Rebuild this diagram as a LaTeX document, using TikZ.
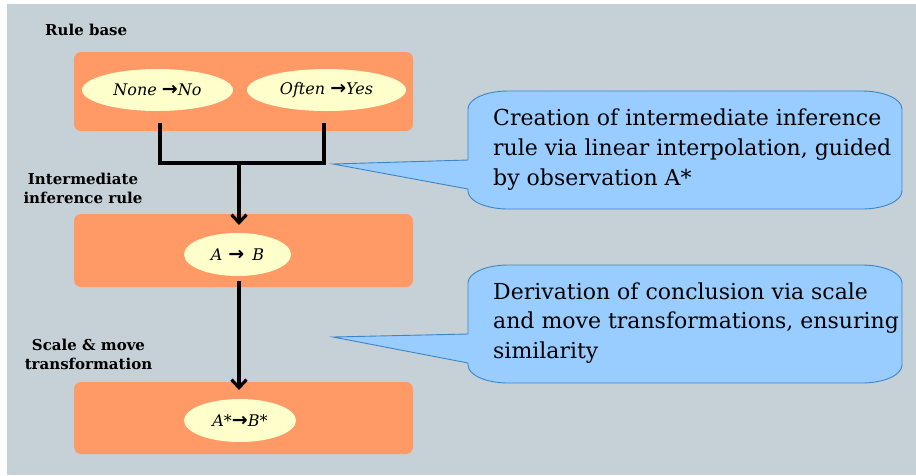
\documentclass[tikz,border=0pt]{standalone}
\usepackage{fontspec}
\setmainfont{DejaVu Serif}
\newfontfamily\arrowfont{DejaVu Sans}
\usetikzlibrary{shapes.geometric,arrows.meta}
\definecolor{bgc}{RGB}{198,208,215}
\definecolor{boxc}{RGB}{255,153,102}
\definecolor{ellc}{RGB}{255,255,204}
\definecolor{calfill}{RGB}{153,204,255}
\definecolor{caldraw}{RGB}{60,134,200}
\newcommand{\rarr}{{\arrowfont\bfseries\fontsize{19}{19}\selectfont →}}
\tikzset{
  rulebox/.style={fill=boxc, draw=none, rounded corners=7pt},
  oval/.style={ellipse, fill=ellc, draw=none, inner sep=0pt, font=\fontsize{16}{18}\selectfont\itshape},
  lbl/.style={font=\fontsize{15}{19}\selectfont\bfseries, inner sep=0pt, align=center, anchor=north},
  conn/.style={line width=3.4pt, black},
  arr/.style={conn, -{Straight Barb[length=8pt,width=15pt,line width=3.2pt]}},
  callout/.style={fill=calfill, draw=caldraw, line width=0.9pt},
  caltext/.style={font=\fontsize{22}{30}\selectfont, inner sep=0pt, align=left, anchor=north west}
}
\begin{document}
\begin{tikzpicture}[x=1pt,y=-1pt]
\useasboundingbox (0,0) rectangle (916,475);
\fill[bgc] (7,4) rectangle (916,475);

% labels
\node[font=\fontsize{15}{19}\selectfont\bfseries, inner sep=0pt, anchor=base west] (lrb) at (45,35) {Rule base};
\node[lbl] (lir) at (83,172.6) {Intermediate\\inference rule};
\node[lbl] (lsm) at (88.5,338.6) {Scale \& move\\transformation};

% boxes
\path[rulebox] (74,52) rectangle (413,131);
\path[rulebox] (74,214) rectangle (413,287);
\path[rulebox] (74,382) rectangle (413,454);

% ellipses
\node[oval, minimum width=151pt, minimum height=42pt] (e1) at (157.5,90) {None \rarr No};
\node[oval, minimum width=159pt, minimum height=42pt] (e2) at (326.5,90) {Often \rarr Yes};
\node[oval, minimum width=107pt, minimum height=43pt] (e3) at (237.5,254.5) {A\hspace{6pt}\rarr\hspace{8pt}B};
\node[oval, minimum width=112pt, minimum height=43pt] (e4) at (240,420.5) {A*\rarr B*};

% connectors
\coordinate (b1) at (160,123);
\coordinate (b2) at (324,123);
\coordinate (j) at (239,163);
\draw[conn, line cap=butt, line join=miter] (b1) -- (160,163) -- (324,163) -- (b2);
\draw[arr] (j) -- (239,225);
\coordinate (m1) at (239,281);
\draw[arr] (m1) -- (239,390);

% callout 1
\coordinate (t1) at (333,164);
\draw[callout] (t1) -- (468,160) -- (468,109)
  .. controls (468,99) and (486,91) .. (508,91) -- (862,91)
  .. controls (884,91) and (902,99) .. (902,109) -- (902,191)
  .. controls (902,201) and (884,209) .. (862,209) -- (508,209)
  .. controls (486,209) and (468,201) .. (468,191) -- (468,189) -- cycle;
\node[caltext] (c1) at (493,108.3) {Creation of intermediate inference\\rule via linear interpolation, guided\\by observation A*};

% callout 2
\coordinate (t2) at (333,337);
\draw[callout] (t2) -- (468,334) -- (468,283)
  .. controls (468,273) and (486,265) .. (508,265) -- (862,265)
  .. controls (884,265) and (902,273) .. (902,283) -- (902,365)
  .. controls (902,375) and (884,383) .. (862,383) -- (508,383)
  .. controls (486,383) and (468,375) .. (468,365) -- (468,363) -- cycle;
\node[caltext, font=\fontsize{22}{29.5}\selectfont] (c2) at (493,282.3) {Derivation of conclusion via scale\\and move transformations, ensuring\\similarity};
\end{tikzpicture}
\end{document}
